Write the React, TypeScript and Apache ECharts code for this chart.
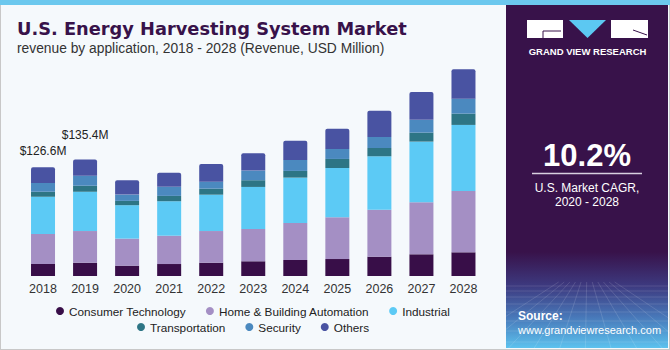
import React, { useEffect, useRef } from "react";
import * as echarts from "echarts";

const years = ["2018", "2019", "2020", "2021", "2022", "2023", "2024", "2025", "2026", "2027", "2028"];
const consumerTech = [13.9, 15.4, 12.0, 13.9, 15.4, 17.1, 18.6, 19.7, 22.4, 25.2, 27.5];
const homeBuilding = [34.8, 36.8, 31.4, 32.9, 36.8, 37.5, 43.0, 48.4, 54.6, 60.4, 71.2];
const industrial = [43.3, 45.6, 38.8, 40.0, 42.2, 48.8, 52.6, 57.3, 62.0, 70.4, 76.7];
const transportation = [5.8, 7.0, 5.0, 6.2, 7.0, 7.8, 7.8, 10.5, 9.6, 10.5, 13.1];
const security = [10.1, 11.6, 7.3, 10.5, 8.1, 11.2, 12.8, 11.6, 12.8, 14.8, 17.4];
const others = [18.5, 18.9, 16.7, 16.3, 20.6, 20.2, 22.1, 23.6, 30.5, 32.2, 34.1];
const topLabels: Record<number, { text: string; distance: number }> = {
  0: { text: "$126.6M", distance: 10 },
  1: { text: "$135.4M", distance: 18 },
};

const seriesNames = [
  "Consumer Technology",
  "Home & Building Automation",
  "Industrial",
  "Transportation",
  "Security",
  "Others",
];
const seriesData = [consumerTech, homeBuilding, industrial, transportation, security, others];
const colors = ["#380E48", "#A48FC4", "#5CCAF5", "#2D7585", "#4B89BF", "#4953A2"];

const FONT = "'Liberation Sans', Arial, sans-serif";
const TITLE_FONT = "'DejaVu Sans', sans-serif";

export default function App() {
  const ref = useRef<HTMLDivElement>(null);
  useEffect(() => {
    if (!ref.current) return;
    const chart = echarts.init(ref.current, null, { renderer: "svg" });
    const series: any[] = seriesData.map((d, i) => {
      const isTop = i === seriesData.length - 1;
      return {
        name: seriesNames[i],
        type: "bar",
        stack: "total",
        barWidth: 24,
        itemStyle: {
          color: colors[i],
          borderRadius: isTop ? [2, 2, 0, 0] : 0,
        },
        data: d.map((v, j) => {
          if (isTop && topLabels[j]) {
            return {
              value: v,
              label: {
                show: true,
                position: "top",
                distance: topLabels[j].distance,
                formatter: topLabels[j].text,
                color: "#222",
                fontSize: 12,
                fontFamily: FONT,
              },
            };
          }
          return v;
        }),
      };
    });

    const gridLines: any[] = [];
    // faint perspective mesh at the bottom of the side panel
    const meshX = [506, 522, 538, 554, 570, 586, 602, 618, 634, 650, 666];
    meshX.forEach((x) => {
      gridLines.push({
        type: "line",
        silent: true,
        shape: { x1: 587 + (x - 587) * 0.35, y1: 282, x2: x + (x - 587) * 0.6, y2: 348 },
        style: { stroke: "rgba(255,255,255,0.13)", lineWidth: 1 },
      });
    });
    [286, 291, 297, 304, 312, 321, 331, 342].forEach((y) => {
      gridLines.push({
        type: "line",
        silent: true,
        shape: { x1: 506, y1: y, x2: 668, y2: y },
        style: { stroke: "rgba(255,255,255,0.12)", lineWidth: 1 },
      });
    });

    chart.setOption({
      animation: false,
      backgroundColor: "#F5F9FC",
      color: colors,
      grid: { left: 22, right: 185.5, top: 40, bottom: 74, containLabel: false },
      xAxis: {
        type: "category",
        data: years,
        axisLine: { show: false },
        axisTick: { show: false },
        axisLabel: { color: "#333", fontSize: 12.5, fontFamily: FONT, margin: 6 },
      },
      yAxis: {
        type: "value",
        min: 0,
        max: 274,
        show: false,
        splitLine: { show: false },
      },
      legend: [
        {
          data: seriesNames.slice(0, 3),
          left: 51,
          top: 300,
          icon: "circle",
          itemWidth: 8,
          itemHeight: 8,
          itemGap: 20,
          textStyle: { color: "#222", fontSize: 11.75, fontFamily: FONT },
        },
        {
          data: seriesNames.slice(3),
          left: 132,
          top: 316,
          icon: "circle",
          itemWidth: 8,
          itemHeight: 8,
          itemGap: 20,
          textStyle: { color: "#222", fontSize: 11.75, fontFamily: FONT },
        },
      ],
      series,
      graphic: [
        // outer border
        { type: "rect", silent: true, shape: { x: 0, y: 0, width: 670, height: 350 }, style: { fill: "none", stroke: "#C8C8C8", lineWidth: 2 } },
        // top stripe
        { type: "rect", silent: true, shape: { x: 0, y: 0, width: 670, height: 5 }, style: { fill: "#6CC8EE" } },
        // right panel
        {
          type: "rect",
          silent: true,
          shape: { x: 506, y: 5, width: 162, height: 343 },
          style: {
            fill: new echarts.graphic.LinearGradient(0, 0, 0, 1, [
              { offset: 0, color: "#38124A" },
              { offset: 0.72, color: "#38124A" },
              { offset: 0.82, color: "#3D3A80" },
              { offset: 0.91, color: "#4878B9" },
              { offset: 1, color: "#5CC2EE" },
            ]),
          },
        },
        ...gridLines,
        // logo
        { type: "rect", silent: true, shape: { x: 527, y: 20, width: 36, height: 18 }, style: { fill: "#FFFFFF" } },
        { type: "polygon", silent: true, shape: { points: [[569, 20], [606, 20], [587.5, 38]] }, style: { fill: "#5CC8F2" } },
        { type: "rect", silent: true, shape: { x: 611, y: 20, width: 37, height: 18 }, style: { fill: "#FFFFFF" } },
        { type: "line", silent: true, shape: { x1: 543, y1: 31, x2: 561, y2: 31 }, style: { stroke: "#38124A", lineWidth: 1 } },
        { type: "line", silent: true, shape: { x1: 543, y1: 31, x2: 543, y2: 38 }, style: { stroke: "#38124A", lineWidth: 1 } },
        { type: "line", silent: true, shape: { x1: 633, y1: 30, x2: 647, y2: 35 }, style: { stroke: "#38124A", lineWidth: 1 } },
        {
          type: "text",
          x: 587.5,
          y: 51,
          style: {
            text: "GRAND VIEW RESEARCH",
            fill: "#FFFFFF",
            font: `bold 9.5px ${FONT}`,
            textAlign: "center",
            textVerticalAlign: "middle",
          },
        },
        // CAGR
        {
          type: "text",
          x: 587,
          y: 155,
          style: {
            text: "10.2%",
            fill: "#FFFFFF",
            font: `bold 31px ${FONT}`,
            textAlign: "center",
            textVerticalAlign: "middle",
          },
        },
        { type: "line", silent: true, shape: { x1: 532, y1: 173.5, x2: 642, y2: 173.5 }, style: { stroke: "#D8D0E0", lineWidth: 1.5 } },
        {
          type: "text",
          x: 587,
          y: 187.5,
          style: {
            text: "U.S. Market CAGR,",
            fill: "#FFFFFF",
            font: `12px ${FONT}`,
            textAlign: "center",
            textVerticalAlign: "middle",
          },
        },
        {
          type: "text",
          x: 587,
          y: 201.5,
          style: {
            text: "2020 - 2028",
            fill: "#FFFFFF",
            font: `12px ${FONT}`,
            textAlign: "center",
            textVerticalAlign: "middle",
          },
        },
        // source
        {
          type: "text",
          x: 518,
          y: 316,
          style: {
            text: "Source:",
            fill: "#FFFFFF",
            font: `bold 12px ${FONT}`,
            textAlign: "left",
            textVerticalAlign: "middle",
          },
        },
        {
          type: "text",
          x: 518,
          y: 329.5,
          style: {
            text: "www.grandviewresearch.com",
            fill: "#FFFFFF",
            font: `11px ${FONT}`,
            textAlign: "left",
            textVerticalAlign: "middle",
          },
        },
        // title
        {
          type: "text",
          x: 17,
          y: 28,
          style: {
            text: "U.S. Energy Harvesting System Market",
            fill: "#38124A",
            font: `bold 17.8px ${TITLE_FONT}`,
            textAlign: "left",
            textVerticalAlign: "middle",
          },
        },
        {
          type: "text",
          x: 17,
          y: 48,
          style: {
            text: "revenue by application, 2018 - 2028 (Revenue, USD Million)",
            fill: "#333333",
            font: `13.8px ${FONT}`,
            textAlign: "left",
            textVerticalAlign: "middle",
          },
        },
      ],
    });
    return () => chart.dispose();
  }, []);
  return (
    <div
      ref={ref}
      style={{ position: "fixed", left: 0, top: 0, width: 670, height: 350 }}
    />
  );
}
